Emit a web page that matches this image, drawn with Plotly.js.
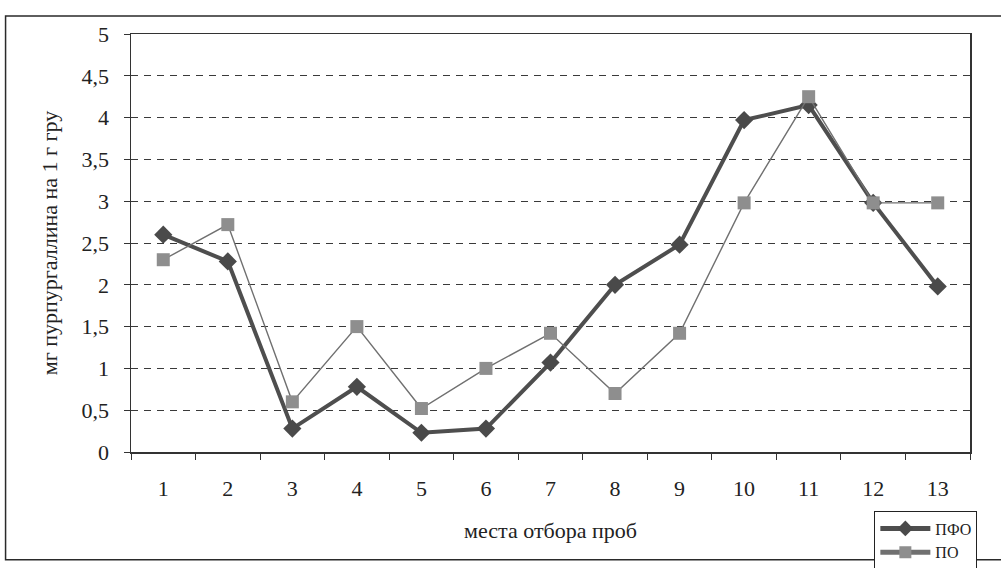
<!DOCTYPE html>
<html>
<head>
<meta charset="utf-8">
<script src="https://cdn.plot.ly/plotly-3.0.1.min.js"></script>
<style>
  html, body { margin: 0; padding: 0; background: #ffffff; }
  #chart { width: 1001px; height: 568px; }
</style>
</head>
<body>
<div id="chart"></div>
<script>
// ---- data ----
const sites = ['1','2','3','4','5','6','7','8','9','10','11','12','13'];
const pfoValues = [2.6, 2.28, 0.28, 0.78, 0.23, 0.28, 1.07, 2.0, 2.48, 3.97, 4.15, 2.98, 1.98];
const poValues  = [2.3, 2.72, 0.6, 1.5, 0.52, 1.0, 1.42, 0.7, 1.42, 2.98, 4.25, 2.98, 2.98];
const seriesNames = ['ПФО', 'ПО'];
const yTickVals = [0, 0.5, 1, 1.5, 2, 2.5, 3, 3.5, 4, 4.5, 5];
const yTickText = ['0', '0,5', '1', '1,5', '2', '2,5', '3', '3,5', '4', '4,5', '5'];
const xTitle = 'места отбора проб';
const yTitle = 'мг пурпургаллина на 1 г гру';

const serif = 'Liberation Serif, Times New Roman, serif';

const traces = [
  {
    type: 'scatter', mode: 'lines+markers', name: seriesNames[0],
    x: sites, y: pfoValues,
    line: { color: '#4e4e4e', width: 4 },
    marker: { symbol: 'diamond', size: 14, color: '#4a4a4a', line: { width: 0 } }
  },
  {
    type: 'scatter', mode: 'lines+markers', name: seriesNames[1],
    x: sites, y: poValues,
    line: { color: '#707070', width: 1.4 },
    marker: { symbol: 'square', size: 13, color: '#8e8e8e', line: { width: 0 } }
  }
];

const layout = {
  width: 1001, height: 568,
  margin: { l: 131, r: 31, t: 34, b: 116, autoexpand: false },
  paper_bgcolor: '#ffffff', plot_bgcolor: '#ffffff',
  font: { family: serif, color: '#222222', size: 20 },
  showlegend: true,
  legend: {
    x: 0.886, y: -0.14, xanchor: 'left', yanchor: 'top',
    bgcolor: '#ffffff', bordercolor: '#222222', borderwidth: 1,
    font: { family: serif, size: 16, color: '#222222' },
    traceorder: 'normal', itemwidth: 50, itemsizing: 'constant',
    tracegroupgap: 0
  },
  xaxis: {
    type: 'category', range: [-0.5, 12.5],
    tickson: 'boundaries', ticks: 'outside', ticklen: 6, tickcolor: '#333333',
    showline: true, linecolor: '#333333', linewidth: 1.5, mirror: true,
    showgrid: false, zeroline: false,
    tickfont: { family: serif, size: 22, color: '#222222' },
    ticklabelstandoff: 16,
    title: { text: xTitle, font: { family: serif, size: 22, color: '#222222' }, standoff: 22 },
    automargin: false
  },
  yaxis: {
    range: [0, 5], tickvals: yTickVals, ticktext: yTickText,
    ticks: 'outside', ticklen: 6, tickcolor: '#333333',
    showline: true, linecolor: '#333333', linewidth: 1.5, mirror: true,
    showgrid: true, gridcolor: '#3a3a3a', gridwidth: 1, griddash: '7px,6px',
    zeroline: false,
    tickfont: { family: serif, size: 22, color: '#222222' },
    ticklabelstandoff: 10,
    title: { text: yTitle, font: { family: serif, size: 22, color: '#222222' }, standoff: 18 },
    automargin: false
  },
  shapes: [
    {
      type: 'rect', xref: 'paper', yref: 'paper',
      x0: -0.1495, x1: 1.06, y0: -0.258, y1: 1.043,
      line: { color: '#2a2a2a', width: 1.5 }, fillcolor: 'rgba(0,0,0,0)', layer: 'below'
    }
  ]
};

Plotly.newPlot('chart', traces, layout, { displayModeBar: false, staticPlot: true });
</script>
</body>
</html>
